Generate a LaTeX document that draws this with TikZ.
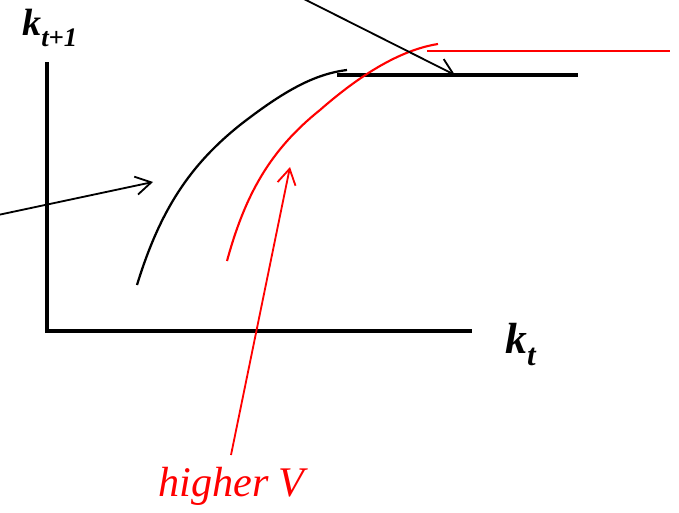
\documentclass[tikz,border=0pt]{standalone}
\usepackage{fontspec}
\setmainfont{Liberation Serif}
\usetikzlibrary{arrows.meta}
\begin{document}
\begin{tikzpicture}[x=0.025cm,y=-0.025cm,
    axis/.style={draw,line width=2.3pt},
    pol/.style={draw,line width=1.6pt},
    polred/.style={draw,red,line width=1.5pt},
    ptr/.style={draw,line width=1.3pt,-{Straight Barb[length=11pt,width=13pt,line width=1.3pt]}},
    ptrred/.style={ptr,red},
    lab/.style={font=\fontsize{27}{30}\selectfont\bfseries\itshape,inner sep=0pt}
  ]
  \useasboundingbox (0,0) rectangle (679,513);
  %% axes
  \coordinate (O) at (47,331);
  \coordinate (Ytop) at (47,62);
  \coordinate (Xend) at (472,331);
  \draw[axis] (Ytop) -- (O) -- (Xend);
  \node[lab,anchor=base west] (ky) at (22,35) {k\raisebox{-8pt}{\fontsize{19}{20}\selectfont t+1}};
  \node[lab,anchor=base west,font=\fontsize{31}{34}\selectfont\bfseries\itshape] (kx) at (505,353) {k\raisebox{-9pt}{\fontsize{22}{24}\selectfont t}};
  %% black policy and its flat part
  \draw[pol] (137,285) .. controls (160,210) and (190,165) .. (240,125)
             .. controls (285,90) and (315,74) .. (347,70);
  \coordinate (F1) at (337,75);
  \coordinate (F2) at (578,75);
  \draw[axis] (F1) -- (F2);
  %% red policy and its flat part
  \draw[polred] (227,261) .. controls (245,195) and (270,150) .. (320,110)
                .. controls (360,75) and (400,50) .. (438,44);
  \coordinate (R1) at (427,51);
  \coordinate (R2) at (670,51);
  \draw[polred] (R1) -- (R2);
  %% pointers
  \coordinate (A1) at (302,-2);
  \coordinate (A1t) at (455,75);
  \draw[ptr] (A1) -- (A1t);
  \coordinate (A2) at (-2,215);
  \coordinate (A2t) at (153,182);
  \draw[ptr] (A2) -- (A2t);
  \node[font=\fontsize{30}{32}\selectfont\itshape,text=red,inner sep=0pt,anchor=base west] (hv) at (158,496) {higher V};
  \coordinate (A3) at (231,455);
  \coordinate (A3t) at (290,167);
  \draw[ptrred] (A3) -- (A3t);
\end{tikzpicture}
\end{document}
